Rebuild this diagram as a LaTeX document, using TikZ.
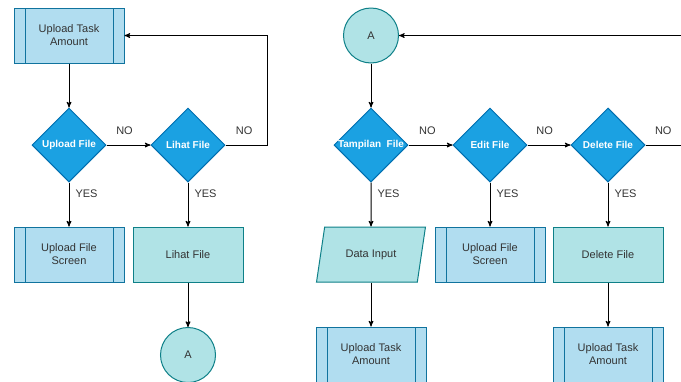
\documentclass[tikz,border=0pt]{standalone}
\usepackage{fontspec}
\setmainfont{Liberation Sans}
\usetikzlibrary{shapes.geometric,arrows,positioning}
\definecolor{subfill}{HTML}{B1DDF0}
\definecolor{subline}{HTML}{10739E}
\definecolor{procfill}{HTML}{B0E3E6}
\definecolor{procline}{HTML}{0E8088}
\definecolor{decfill}{HTML}{1BA1E2}
\definecolor{decline}{HTML}{006EAF}
\definecolor{txt}{HTML}{333333}

\begin{document}
\begin{tikzpicture}[x=1pt, y=-1pt, >=stealth', line width=1pt,
        font=\fontsize{11}{13}\selectfont,
        subproc/.style={rectangle,draw=subline,fill=subfill,text=txt,align=center,
          minimum width=110pt,minimum height=55pt,
          path picture={\draw[subline]
            ([xshift=11pt]path picture bounding box.north west) -- ([xshift=11pt]path picture bounding box.south west)
            ([xshift=-11pt]path picture bounding box.north east) -- ([xshift=-11pt]path picture bounding box.south east);}},
        process/.style={rectangle,draw=procline,fill=procfill,text=txt,align=center,
          minimum width=110pt,minimum height=55pt},
        inout/.style={trapezium,trapezium left angle=73,trapezium right angle=107,
          trapezium stretches=true,draw=procline,fill=procfill,text=txt,
          minimum width=109pt,minimum height=55pt},
        decision/.style={diamond,draw=decline,fill=decfill,
          minimum width=74pt,minimum height=74pt,inner sep=0pt},
        dtext/.style={text=white,inner sep=0pt,font=\fontsize{10}{12}\selectfont\bfseries},
        connector/.style={circle,draw=procline,fill=procfill,text=txt,
          minimum size=55pt,inner sep=0pt},
        lbl/.style={text=txt,inner sep=0pt}]
        \useasboundingbox (0,0) rectangle (681,381);
        \clip (0,0) rectangle (681,381);
        \fill[white] (0,0) rectangle (681,381);

        % left part
        \node[subproc] at (69,35.5) (utask) {Upload Task\\Amount};
        \node[decision,label={[dtext]center:Upload File}] at (69,145) (upfile) {};
        \node[decision,label={[dtext]center:Lihat File}] at (188,145) (lihat) {};
        \node[subproc] at (69,254.5) (upscreen) {Upload File\\Screen};
        \node[process] at (188,254.5) (lihatbox) {Lihat File};
        \node[connector] at (188,355) (conA) {A};
        \coordinate (loopR) at (267,145);

        % right part
        \node[connector] at (371,35.5) (conB) {A};
        \node[decision,label={[dtext]center:Tampilan~ File}] at (371,145) (tampil) {};
        \node[decision,label={[dtext]center:Edit File}] at (490,145) (edit) {};
        \node[decision,label={[dtext]center:Delete File}] at (608,145) (delete) {};
        \node[inout] at (371,254.5) (datain) {Data Input};
        \node[subproc] at (490,254.5) (upscreen2) {Upload File\\Screen};
        \node[process] at (608,254.5) (delbox) {Delete File};
        \node[subproc] at (371,354.5) (utask2) {Upload Task\\Amount};
        \node[subproc] at (608,354.5) (utask3) {Upload Task\\Amount};
        \coordinate (inR) at (681,35.5);
        \coordinate (outR) at (681,145);

        \draw[->] (utask) -- (upfile);
        \draw[->] (upfile) -- node[lbl,above=10pt,pos=.41] {NO} (lihat);
        \draw[->] (upfile) -- node[lbl,right=6pt,pos=.25] {YES} (upscreen);
        \draw[->] (lihat) -- node[lbl,right=6pt,pos=.25] {YES} (lihatbox);
        \draw[->] (lihat.east) -- node[lbl,above=10pt,pos=.45] {NO} (loopR) |- (utask.east);
        \draw[->] (lihatbox) -- (conA);

        \draw[->] (inR) -- (conB);
        \draw[->] (conB) -- (tampil);
        \draw[->] (tampil) -- node[lbl,above=10pt,pos=.43] {NO} (edit);
        \draw[->] (edit) -- node[lbl,above=10pt,pos=.4] {NO} (delete);
        \draw (delete.east) -- node[lbl,above=10pt,pos=.5] {NO} (outR);
        \draw[->] (tampil) -- node[lbl,right=6pt,pos=.25] {YES} (datain);
        \draw[->] (edit) -- node[lbl,right=6pt,pos=.25] {YES} (upscreen2);
        \draw[->] (delete) -- node[lbl,right=6pt,pos=.25] {YES} (delbox);
        \draw[->] (datain) -- (utask2);
        \draw[->] (delbox) -- (utask3);
\end{tikzpicture}
\end{document}
